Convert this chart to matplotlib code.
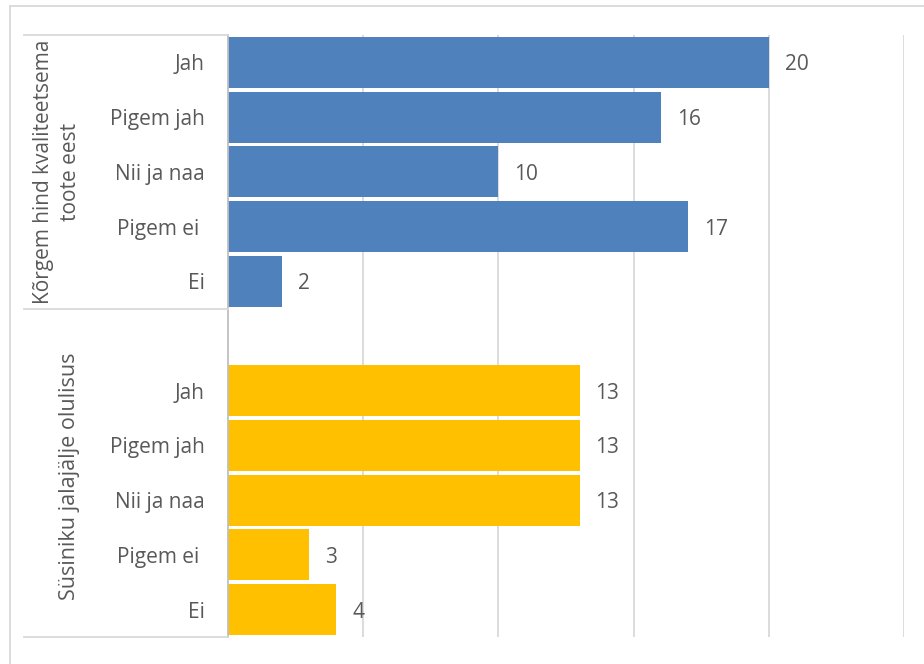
import matplotlib.pyplot as plt
from matplotlib.lines import Line2D

# vastusevariandid ja vastajate arv kahe küsimuse kohta
vastused = ["Jah", "Pigem jah", "Nii ja naa", "Pigem ei ", "Ei"]
hind_arv = [20, 16, 10, 17, 2]
susinik_arv = [13, 13, 13, 3, 4]
grupid = ["Kõrgem hind kvaliteetsema\ntoote eest", "Süsiniku jalajälje olulisus"]

sinine = "#4F81BD"
kollane = "#FFC000"
tekst = "#595959"
fs = 15

plt.rcParams['font.family'] = ['Open Sans', 'DejaVu Sans']

W, H = 924, 664
fig = plt.figure(figsize=(W / 100, H / 100), dpi=100)

# pikslid -> joonise koordinaadid
def fx(px):
    return px / W

def fy(py):
    return 1 - py / H

ax = fig.add_axes([fx(228), fy(637), fx(904) - fx(228), fy(35) - fy(637)])

# esimene grupp kohtadel 0..4, tühi koht 5, teine grupp 6..10
pos1 = list(range(0, 5))
pos2 = list(range(6, 11))

ax.barh(pos1, hind_arv, height=0.93, color=sinine, zorder=2)
ax.barh(pos2, susinik_arv, height=0.93, color=kollane, zorder=2)

for p, v in zip(pos1 + pos2, hind_arv + susinik_arv):
    ax.annotate(str(v), (v, p), xytext=(11.5, 0), textcoords='offset points',
                va='center_baseline', ha='left', fontsize=fs, color=tekst)

ax.set_xlim(0, 25)
ax.set_ylim(10.5, -0.5)
ax.set_xticks([5, 10, 15, 20, 25])
ax.set_xticklabels([])
ax.grid(axis='x', color='#D9D9D9', linewidth=1.3, zorder=0)
ax.tick_params(axis='x', length=0)

ax.set_yticks(pos1 + pos2)
ax.set_yticklabels(vastused + vastused, fontsize=fs, color=tekst)
ax.tick_params(axis='y', length=0, pad=17)

for s in ['top', 'right', 'bottom']:
    ax.spines[s].set_visible(False)
ax.spines['left'].set_color('#BFBFBF')
ax.spines['left'].set_linewidth(1.3)

# kategooriate tabeli jooned vasakul
for py in [35, 309, 637]:
    fig.add_artist(Line2D([fx(24), fx(228)], [fy(py), fy(py)], color='#D9D9D9', lw=1.3))

fig.text(fx(57), fy(172), grupid[0], rotation=90, ha='center', va='center',
         fontsize=15, color=tekst, linespacing=1.4)
fig.text(fx(70), fy(476), grupid[1], rotation=90, ha='center', va='center',
         fontsize=15.5, color=tekst)

# diagrammi raam
fig.add_artist(Line2D([fx(10), fx(924)], [fy(6), fy(6)], color='#D9D9D9', lw=1.3))
fig.add_artist(Line2D([fx(10), fx(10)], [fy(6), fy(664)], color='#D9D9D9', lw=1.3))

fig.savefig('out.png', dpi=100)
